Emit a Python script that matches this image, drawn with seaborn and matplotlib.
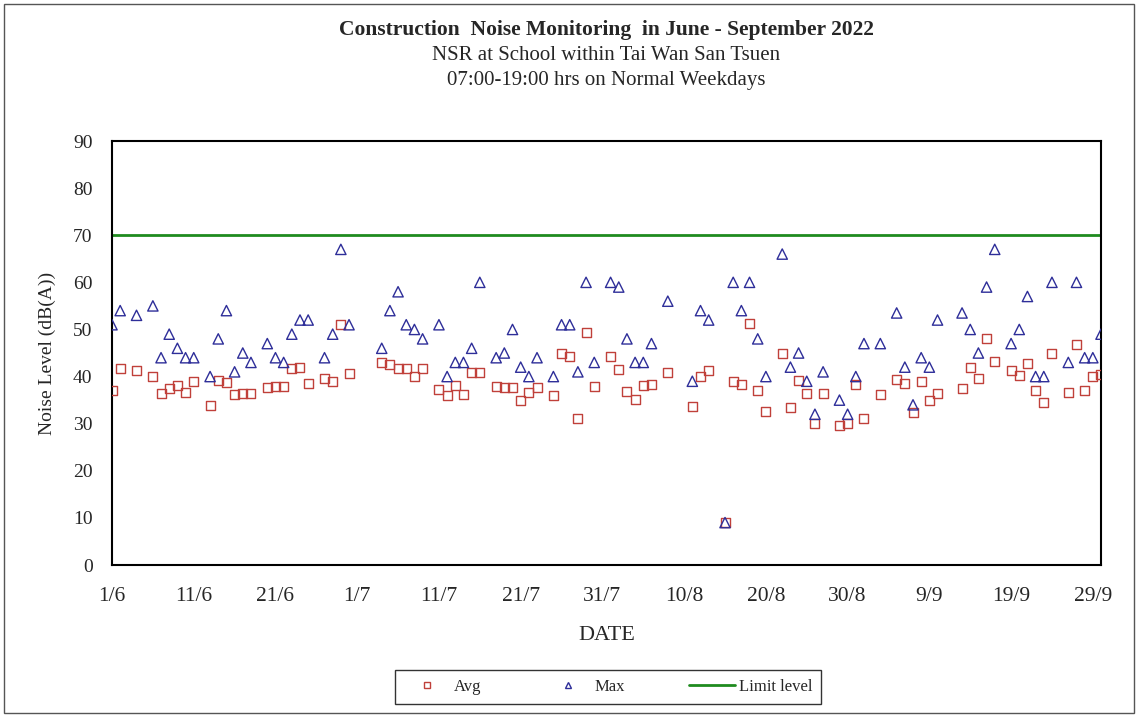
import numpy as np
import pandas as pd
import matplotlib
matplotlib.use("Agg")
import matplotlib.pyplot as plt
from matplotlib.lines import Line2D
from matplotlib.patches import Rectangle
import seaborn as sns

# monitoring days (Mon-Sat, excluding Sundays / public holidays / no-data days)
jun_days = [1, 2, 4, 6, 7, 8, 9, 10, 11, 13, 14, 15, 16, 17, 18, 20, 21, 22, 23, 24, 25, 27, 28, 29, 30]
jul_days = [4, 5, 6, 7, 8, 9, 11, 12, 13, 14, 15, 16, 18, 19, 20, 21, 22, 23, 25, 26, 27, 28, 29, 30]
aug_days = [1, 2, 3, 4, 5, 6, 8, 11, 12, 13, 15, 16, 17, 18, 19, 20, 22, 23, 24, 25, 26, 27, 29, 30, 31]
sep_days = [1, 3, 5, 6, 7, 8, 9, 10, 13, 14, 15, 16, 17, 19, 20, 21, 22, 23, 24, 26, 27, 28, 29, 30]

avg_jun = [37.1, 41.8, 41.3, 40.0, 36.3, 37.4, 38.1, 36.6, 38.9, 33.8, 39.1, 38.7, 36.1, 36.3, 36.3,
           37.6, 37.9, 37.9, 41.8, 42.0, 38.6, 39.6, 38.9, 51.1, 40.7]
avg_jul = [43.0, 42.5, 41.8, 41.8, 40.1, 41.8, 37.3, 35.9, 38.1, 36.1, 40.9, 40.9, 37.9, 37.6, 37.6,
           35.0, 36.6, 37.6, 35.9, 44.8, 44.3, 31.1, 49.3, 37.9]
avg_aug = [44.3, 41.4, 36.8, 35.2, 38.1, 38.4, 40.9, 33.6, 40.0, 41.2, 9.0, 38.9, 38.4, 51.3, 37.1,
           32.6, 44.8, 33.4, 39.1, 36.3, 30.1, 36.3, 29.6, 30.1, 38.4]
avg_sep = [31.2, 36.1, 39.4, 38.6, 32.4, 38.9, 35.0, 36.3, 37.4, 42.0, 39.5, 48.0, 43.1, 41.3, 40.2,
           42.7, 37.1, 34.5, 44.8, 36.6, 46.9, 37.1, 40.0, 40.5]

max_jun = [51, 54, 53, 55, 44, 49, 46, 44, 44, 40, 48, 54, 41, 45, 43, 47, 44, 43, 49, 52, 52, 44, 49, 67, 51]
max_jul = [46, 54, 58, 51, 50, 48, 51, 40, 43, 43, 46, 60, 44, 45, 50, 42, 40, 44, 40, 51, 51, 41, 60, 43]
max_aug = [60, 59, 48, 43, 43, 47, 56, 39, 54, 52, 9, 60, 54, 60, 48, 40, 66, 42, 45, 39, 32, 41, 35, 32, 40]
max_sep = [47, 47, 53.5, 42, 34, 44, 42, 52, 53.5, 50, 45, 59, 67, 47, 50, 57, 40, 40, 60, 43, 60, 44, 44, 49]

limit_level = 70
tick_labels = ["1/6", "11/6", "21/6", "1/7", "11/7", "21/7", "31/7", "10/8", "20/8", "30/8", "9/9", "19/9", "29/9"]

dates = []
for m, days in [(6, jun_days), (7, jul_days), (8, aug_days), (9, sep_days)]:
    dates += [pd.Timestamp(2022, m, d) for d in days]
df = pd.DataFrame({"date": dates,
                   "Avg": avg_jun + avg_jul + avg_aug + avg_sep,
                   "Max": max_jun + max_jul + max_aug + max_sep})

sns.set_style("white")
plt.rcParams["font.family"] = ["Liberation Serif", "DejaVu Serif"]

W, H = 1138, 717
fig = plt.figure(figsize=(W / 100, H / 100), dpi=100)
ax = fig.add_axes([112 / W, 1 - 565 / H, (1101 - 112) / W, (565 - 141) / H])

red = "#C0403A"
navy = "#2E2E99"
green = "#1F8B1F"

sns.scatterplot(data=df, x="date", y="Avg", marker="s", s=42, facecolors="none",
                edgecolors=red, linewidth=1.0, ax=ax, zorder=3)
sns.scatterplot(data=df, x="date", y="Max", marker="^", s=55, facecolors="none",
                edgecolors=navy, linewidth=1.0, ax=ax, zorder=4)
ax.axhline(limit_level, color=green, lw=2, zorder=2)

ax.set_xlim(pd.Timestamp(2022, 6, 1), pd.Timestamp(2022, 9, 30))
ax.set_ylim(0, 90)
ax.set_yticks(range(0, 91, 10))
ax.set_xticks(pd.date_range("2022-06-01", periods=len(tick_labels), freq="10D"))
ax.set_xticklabels(tick_labels)
ax.tick_params(axis="both", direction="inout", length=10, width=1.3, color="black")
ax.tick_params(axis="x", pad=11, labelsize=15.5)
ax.tick_params(axis="y", pad=9, labelsize=14)
for sp in ax.spines.values():
    sp.set_color("black")
    sp.set_linewidth(1.5)

ax.set_xlabel("DATE", fontsize=16, labelpad=14)
ax.set_ylabel("Noise Level (dB(A))", fontsize=14, labelpad=12)

fig.text(606 / W, 1 - 30 / H, "Construction  Noise Monitoring  in June - September 2022",
         ha="center", va="center", fontsize=15.5, fontweight="bold")
fig.text(606 / W, 1 - 55 / H, "NSR at School within Tai Wan San Tsuen",
         ha="center", va="center", fontsize=15)
fig.text(606 / W, 1 - 80 / H, "07:00-19:00 hrs on Normal Weekdays",
         ha="center", va="center", fontsize=15)

handles = [Line2D([], [], ls="none", marker="s", mfc="none", mec=red, ms=5, mew=1),
           Line2D([], [], ls="none", marker="^", mfc="none", mec=navy, ms=5, mew=1),
           Line2D([], [], color=green, lw=2)]
fig.legend(handles, ["Avg", "Max", "Limit level"], loc="center", ncol=3,
           bbox_to_anchor=(608 / W, 1 - 687 / H), fontsize=12, frameon=True,
           fancybox=False, edgecolor="black", handlelength=2.8, handletextpad=0.2,
           columnspacing=3.8, borderpad=0.55)

fig.patches.append(Rectangle((4 / W, 4 / H), (W - 8) / W, (H - 8) / H, transform=fig.transFigure,
                             fill=False, edgecolor="#555555", lw=1))

fig.savefig("out.png", dpi=100)
